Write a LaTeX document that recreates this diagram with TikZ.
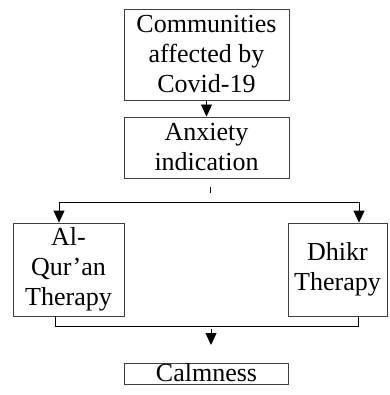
\documentclass[tikz,border=0pt]{standalone}
\usepackage{fontspec}
\setmainfont{Liberation Serif}
\usetikzlibrary{arrows.meta}
\tikzset{
  box/.style={draw=black!75, line width=0.8pt, align=center, inner sep=0pt,
    font=\fontsize{26}{30}\selectfont},
  conn/.style={draw=black, line width=0.8pt},
  arr/.style={conn, -{Triangle[length=12pt,width=11pt]}}
}
\begin{document}
\begin{tikzpicture}[x=1pt,y=-1pt]
    \useasboundingbox (0,0) rectangle (389,395);
    \node[box, minimum width=165, minimum height=91] (community) at (206.5,54.5) {Communities\\affected by\\Covid-19};
    \node[box, minimum width=165, minimum height=61] (anxiety) at (206.5,147.5) {Anxiety\\indication};
    \node[box, minimum width=111, minimum height=93] (quran) at (68.5,269.5) {Al-\\Qur'an\\Therapy};
    \node[box, minimum width=99, minimum height=93] (dhikr) at (337.5,269.5) {Dhikr\\Therapy};
    \node[box, minimum width=164, text height=18pt, text depth=3pt] (calm) at (206.5,373.5) {Calmness};
    \coordinate (tick) at (210,187);
    \coordinate (splitL) at (59,202);
    \coordinate (splitR) at (359,202);
    \coordinate (joinL) at (55,326);
    \coordinate (joinR) at (358,326);
    \coordinate (down) at (211,329);
    \draw[arr] (community) -- (anxiety);
    \draw[conn] (tick) -- ++(0,6);
    \draw[conn] (splitL) -- (splitR);
    \draw[arr] (splitL) -- (splitL |- quran.north);
    \draw[arr] (splitR) -- (splitR |- dhikr.north);
    \draw[conn] (joinL |- quran.south) -- (joinL) -- (joinR) -- (joinR |- dhikr.south);
    \draw[arr] (down) -- ++(0,16);
\end{tikzpicture}
\end{document}
